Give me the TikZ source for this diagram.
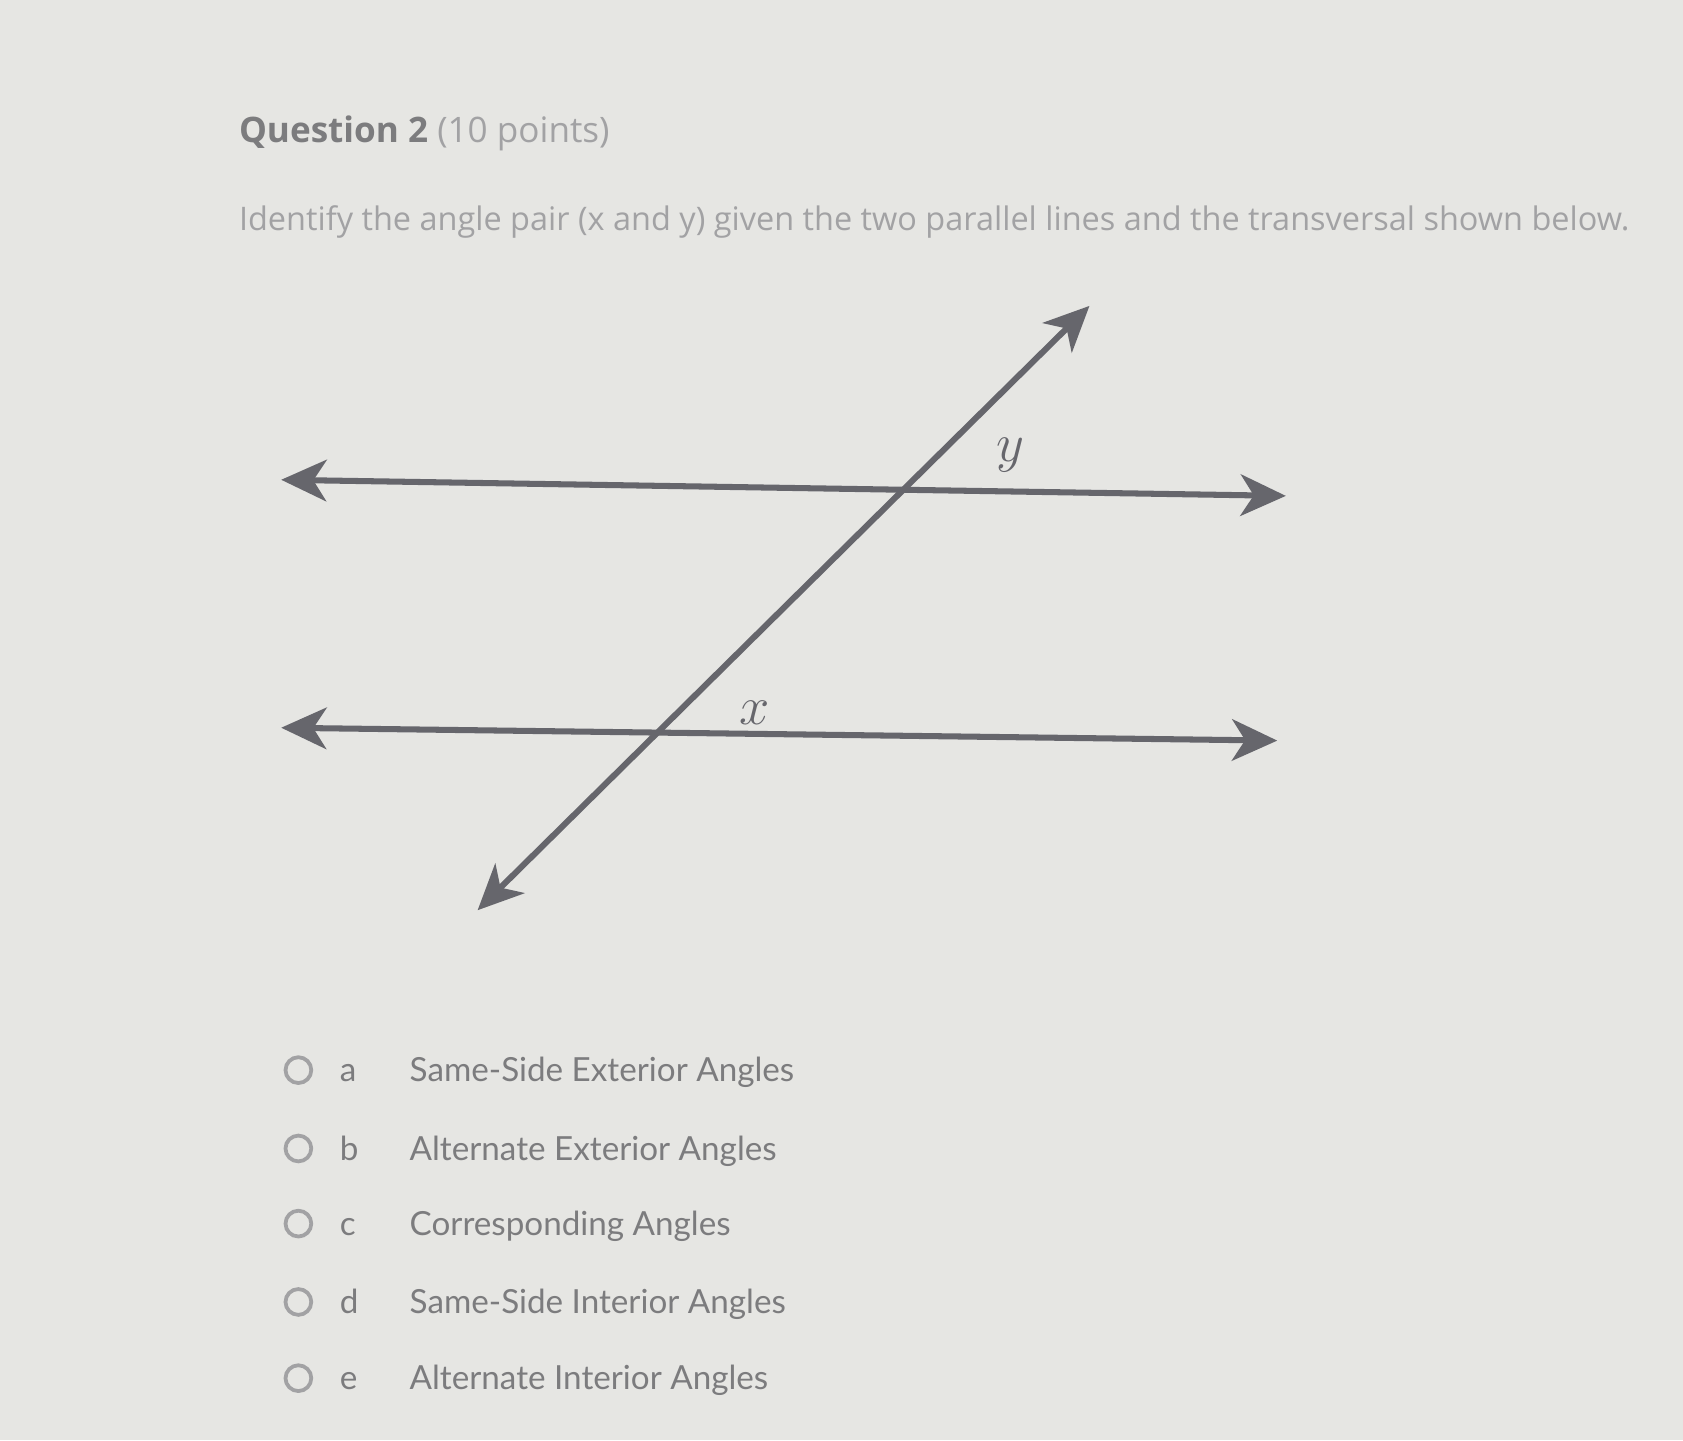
\documentclass[tikz,border=0pt]{standalone}
\usepackage{fontspec}
\setmainfont{Open Sans}
\newfontfamily\optfont{Lato}
\usetikzlibrary{arrows.meta}
\definecolor{paper}{HTML}{E6E6E3}
\definecolor{ink}{HTML}{66666C}
\definecolor{txtgray}{HTML}{7C7C7E}
\definecolor{lightgray}{HTML}{A2A2A4}
\begin{document}
\begin{tikzpicture}
[x=0.01cm,y=-0.01cm,
  linedecorate/.style={{Stealth[length=12pt,width=11pt,inset=3.5pt]}-{Stealth[length=12pt,width=11pt,inset=3.5pt]},line width=1.6pt,draw=ink},%
  radiodecorate/.style={shape=circle,draw=lightgray,line width=1pt,minimum size=0.24cm,inner sep=0pt},%
  optdecorate/.style={anchor=base west,inner sep=0pt,text=txtgray,font=\optfont\fontsize{8.8}{11}\selectfont},%
  labeldecorate/.style={inner sep=0pt,text=ink,font=\fontsize{14}{14}\selectfont}]
\fill[paper] (0,0) rectangle (1568,1342);
\useasboundingbox (0,0) rectangle (1568,1342);
%% header
\node (title) at (222,133) [anchor=base west,inner sep=0pt,text=txtgray,font=\fontsize{9.3}{11}\selectfont]
  {\textbf{Question 2} {\color{lightgray}(10 points)}};
\node (prompt) at (222,215) [anchor=base west,inner sep=0pt,text=lightgray,font=\fontsize{8.6}{10}\selectfont]
  {Identify the angle pair (x and y) given the two parallel lines and the transversal shown below.};
%% end points of the lines
\coordinate (topL) at (262,447);
\coordinate (topR) at (1198,462);
\coordinate (botL) at (262,678);
\coordinate (botR) at (1190,690);
\coordinate (trB) at (445,848);
\coordinate (trT) at (1015,285);
%% lines
\draw[linedecorate] (topL) -- (topR);
\draw[linedecorate] (botL) -- (botR);
\draw[linedecorate] (trB) -- (trT);
%% angle labels
\node (ylabel) at (941,424) [labeldecorate] {$y$};
\node (xlabel) at (703,664) [labeldecorate] {$x$};
%% answer options
\foreach \optname/\letter/\y/\answer in {a/a/997/Same-Side Exterior Angles,
  b/b/1070/Alternate Exterior Angles, c/c/1140/Corresponding Angles,
  d/d/1213/Same-Side Interior Angles, e/e/1284/Alternate Interior Angles}
{
  \node (radio\optname) at (278,\y) [radiodecorate] {};
  \node (letter\optname) at (316,\y+11) [optdecorate] {\letter};
  \node (answer\optname) at (381,\y+11) [optdecorate] {\answer};
}
\end{tikzpicture}
\end{document}
